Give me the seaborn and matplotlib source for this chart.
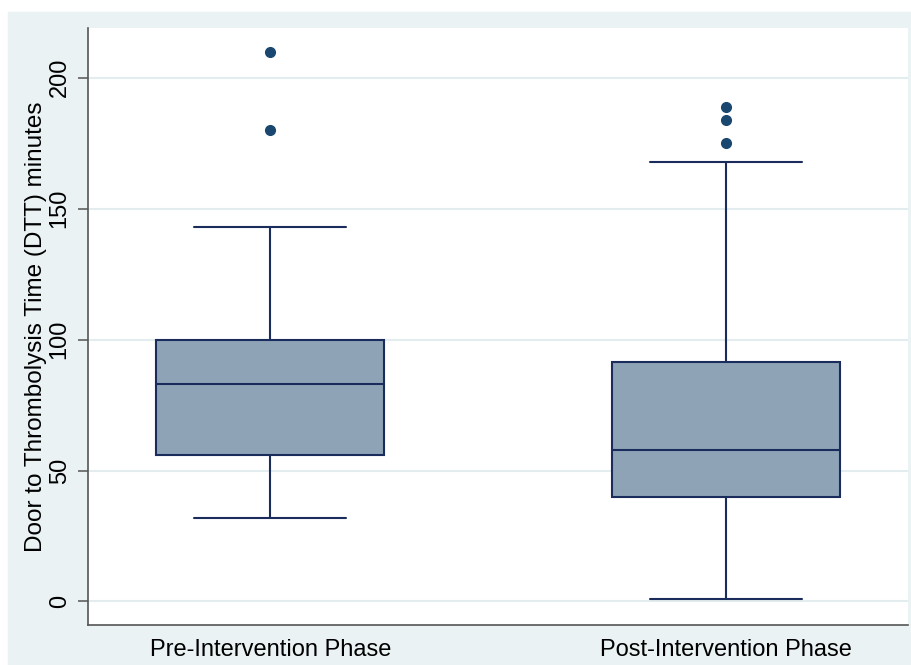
import pandas as pd
import seaborn as sns
import matplotlib.pyplot as plt
from matplotlib.patches import Rectangle

# Door-to-thrombolysis samples, chosen so quartiles/whiskers/outliers match the figure
phases = ["Pre-Intervention Phase", "Post-Intervention Phase"]
pre_minutes = [32, 41, 49, 56, 64, 75, 83, 88, 95, 100, 143, 180, 210]
post_minutes = [1, 15, 27, 34, 40, 45, 50, 54, 58, 66, 75, 84, 91.5,
                168, 175, 184, 189]
y_ticks = [0, 50, 100, 150, 200]

data = pd.DataFrame({
    "phase": [phases[0]] * len(pre_minutes) + [phases[1]] * len(post_minutes),
    "minutes": pre_minutes + post_minutes,
})

sns.set_theme(style="white")
plt.rcParams['font.family'] = ['Liberation Sans', 'DejaVu Sans']

edge = "#1a2c5b"
fig = plt.figure(figsize=(9.12, 6.65), dpi=100)
fig.patch.set_facecolor("white")
fig.add_artist(Rectangle((8 / 912, 0), 1, (665 - 12) / 665,
                         transform=fig.transFigure, color="#eaf2f3", zorder=-1))
ax = fig.add_axes([88 / 912, 40 / 665, 820 / 912, 597 / 665])
ax.set_facecolor("white")

sns.boxplot(data=data, x="phase", y="minutes", order=phases, width=0.5,
            color="#8fa3b7", saturation=1, ax=ax, whis=1.5,
            linewidth=1.5, capwidths=0.334,
            boxprops=dict(facecolor="#8fa3b7", edgecolor=edge),
            medianprops=dict(color=edge),
            whiskerprops=dict(color=edge),
            capprops=dict(color=edge),
            flierprops=dict(marker="o", markersize=7, markerfacecolor="#1a476f",
                            markeredgecolor="#1a476f"))

ax.set_xlim(-0.4, 1.4)
ax.set_ylim(-9, 219)
ax.set_yticks(y_ticks)
ax.set_yticklabels([str(t) for t in y_ticks], rotation=90, va="center")
ax.yaxis.grid(True, color="#e3edef", linewidth=1.5)
ax.set_axisbelow(True)

for s in ["top", "right"]:
    ax.spines[s].set_visible(False)
for s in ["left", "bottom"]:
    ax.spines[s].set_color("#555555")
    ax.spines[s].set_linewidth(1.2)

ax.tick_params(axis="y", left=True, length=7, width=1.1, color="#555555",
               pad=5.5, labelsize=17, labelcolor="black")
ax.tick_params(axis="x", bottom=False, length=0, pad=10, labelsize=17,
               labelcolor="black")

ax.set_xlabel("")
ax.set_ylabel("Door to Thrombolysis Time (DTT) minutes", fontsize=17.5,
              color="black", labelpad=1)

plt.savefig("out.png", dpi=100)
